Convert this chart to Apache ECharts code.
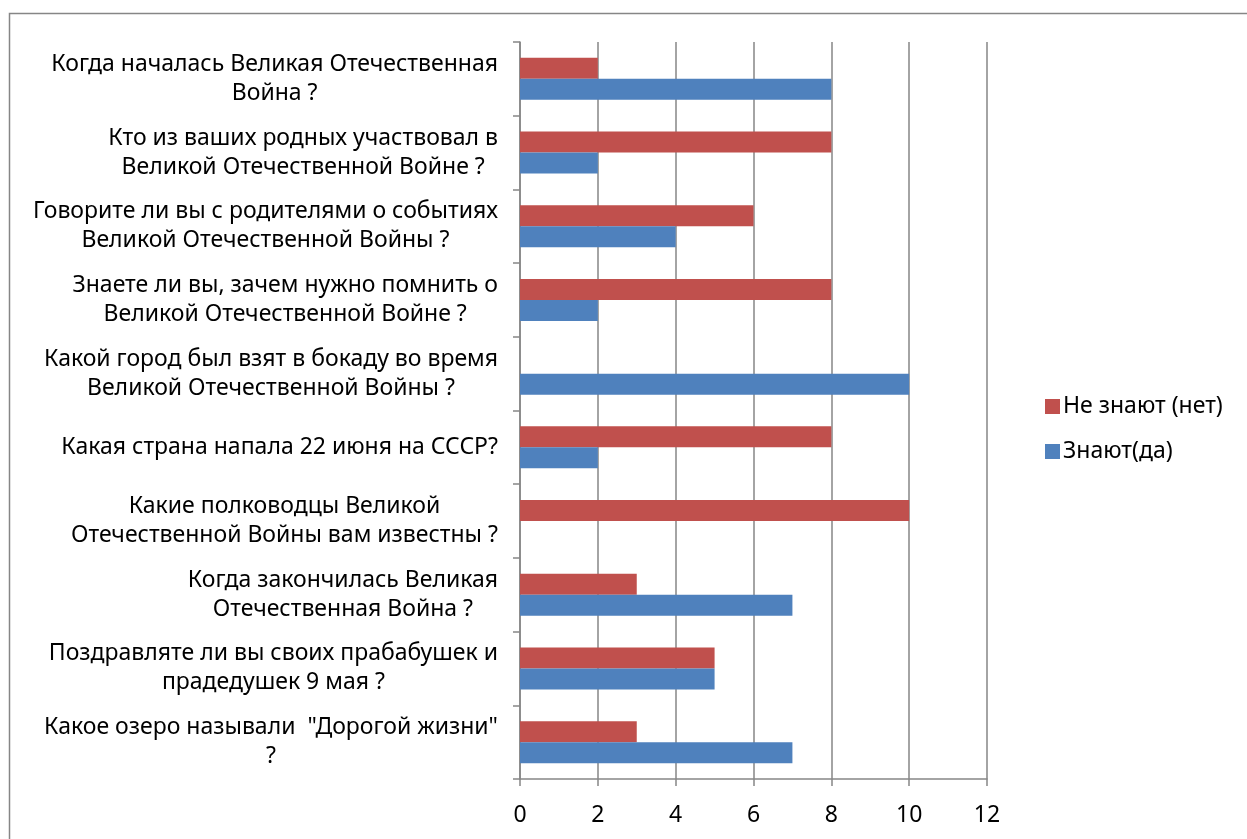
<!DOCTYPE html>
<html>
<head>
<meta charset="utf-8">
<script src="https://cdn.jsdelivr.net/npm/echarts@6/dist/echarts.min.js"></script>
<style>
html,body{margin:0;padding:0;background:#fff;}
#c{width:1247px;height:839px;}
</style>
</head>
<body>
<div id="c"></div>
<script>
var categories = [
  "Когда началась Великая Отечественная\nВойна ?",
  "Кто из ваших родных участвовал в\nВеликой Отечественной Войне ?",
  "Говорите ли вы с родителями о событиях\nВеликой Отечественной Войны ?",
  "Знаете ли вы, зачем нужно помнить о\nВеликой Отечественной Войне ?",
  "Какой город был взят в бокаду во время\nВеликой Отечественной Войны ?",
  "Какая страна напала 22 июня на СССР?",
  "Какие полководцы Великой\nОтечественной Войны вам известны ?",
  "Когда закончилась Великая\nОтечественная Война ?",
  "Поздравляте ли вы своих прабабушек и\nпрадедушек 9 мая ?",
  "Какое озеро называли  \"Дорогой жизни\"\n?"
];
var seriesNames = ["Не знают (нет)", "Знают(да)"];
var notKnow = [2, 8, 6, 8, 0, 8, 10, 3, 5, 3];
var know = [8, 2, 4, 2, 10, 2, 0, 7, 5, 7];

var FONT = "Noto Sans";
var FS = 23;
var chart = echarts.init(document.getElementById('c'), null, {renderer: 'canvas'});
chart.setOption({
  animation: false,
  backgroundColor: '#ffffff',
  graphic: [{
    type: 'rect', left: 7, top: 11,
    shape: {width: 1300, height: 900},
    style: {fill: 'none', stroke: '#868686', lineWidth: 1.5},
    silent: true
  }],
  grid: {left: 520, right: 260, top: 42, bottom: 60, containLabel: false},
  legend: {
    orient: 'vertical', left: 1040, top: 390,
    itemWidth: 15, itemHeight: 15, itemGap: 22,
    icon: 'rect',
    data: seriesNames,
    textStyle: {fontFamily: FONT, fontSize: FS, color: '#000', padding: [0, 0, 0, -2]}
  },
  xAxis: {
    type: 'value', min: 0, max: 12, interval: 2,
    axisLine: {show: true, lineStyle: {color: '#868686', width: 1.5}},
    axisTick: {show: true, length: 7, lineStyle: {color: '#868686', width: 1.5}},
    axisLabel: {fontFamily: FONT, fontSize: FS, color: '#000', margin: 25},
    splitLine: {show: true, lineStyle: {color: '#868686', width: 1.5}}
  },
  yAxis: {
    type: 'category', inverse: true, data: categories,
    axisLine: {show: true, lineStyle: {color: '#868686', width: 1.5}},
    axisTick: {show: true, length: 7, lineStyle: {color: '#868686', width: 1.5}},
    axisLabel: {
      margin: 22, align: 'right', color: '#000',
      fontFamily: FONT, fontSize: FS, lineHeight: 29,
      formatter: function (v) {
        return v.split('\n').map(function (l) { return '{c|' + l + '}'; }).join('\n');
      },
      rich: {c: {align: 'center', fontFamily: FONT, fontSize: FS, lineHeight: 29, color: '#000'}}
    }
  },
  series: [
    {name: seriesNames[0], type: 'bar', data: notKnow, barGap: '0%', barCategoryGap: '43%',
     itemStyle: {color: '#C0504D'}},
    {name: seriesNames[1], type: 'bar', data: know, barGap: '0%', barCategoryGap: '43%',
     itemStyle: {color: '#4F81BD'}}
  ]
});
</script>
</body>
</html>
